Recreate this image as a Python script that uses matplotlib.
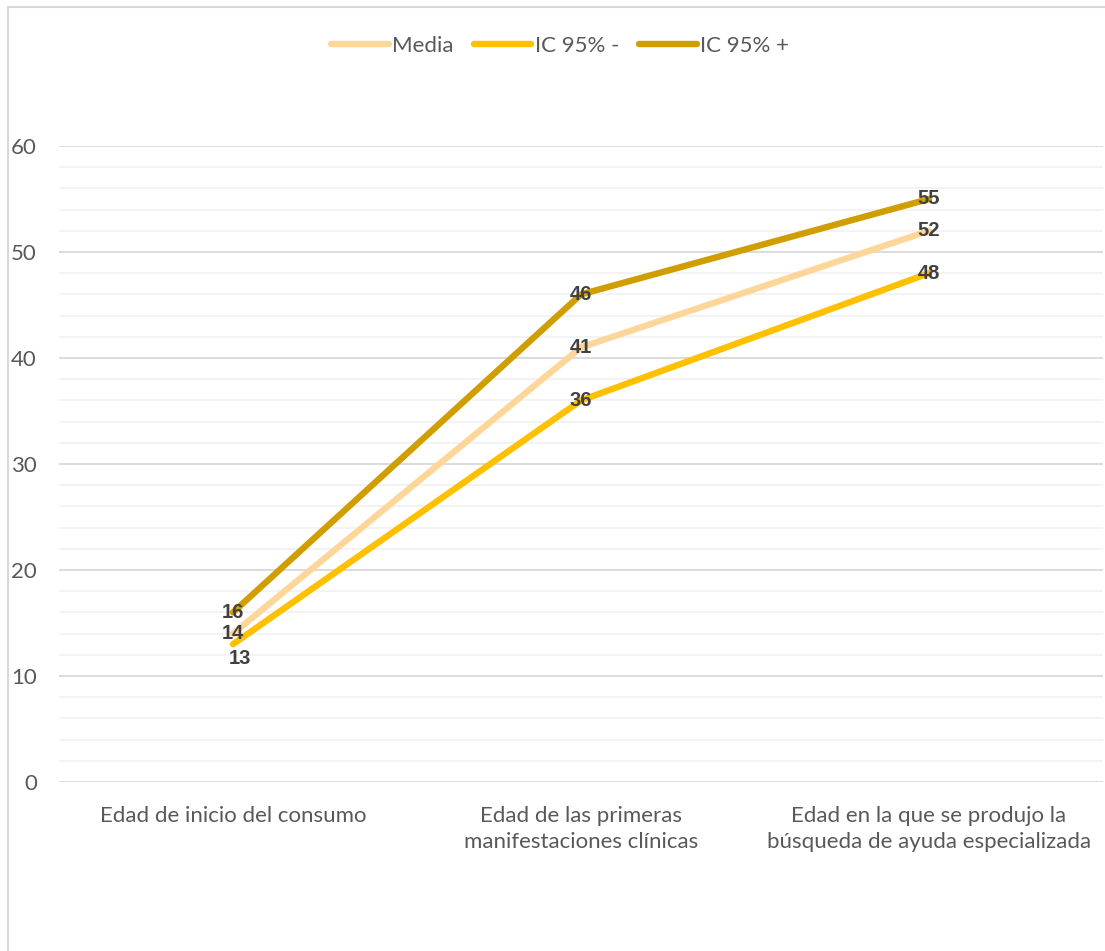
import matplotlib.pyplot as plt
from matplotlib.patches import Rectangle

categorias = ["Edad de inicio del consumo",
              "Edad de las primeras\nmanifestaciones clínicas",
              "Edad en la que se produjo la\nbúsqueda de ayuda especializada"]
media = [14, 41, 52]
ic_inf = [13, 36, 48]
ic_sup = [16, 46, 55]
series = ["Media", "IC 95% -", "IC 95% +"]
colores = ["#FFD699", "#FFC000", "#D09E00"]

plt.rcParams['font.family'] = ['Lato', 'DejaVu Sans']
fs = 16
lab_font = dict(family=['Liberation Sans', 'DejaVu Sans'], fontsize=14.5,
                fontweight='bold', color='#404040')

fig = plt.figure(figsize=(11.05, 9.51), dpi=100)
ax = fig.add_axes([59/1105, 1 - 782/951, 1044/1105, (782 - 146)/951])

x = list(range(len(categorias)))
for nombre, vals, col in zip(series, [media, ic_inf, ic_sup], colores):
    ax.plot(x, vals, color=col, lw=4.6, label=nombre, solid_capstyle='round', zorder=3)

# etiquetas de datos
for vals in [media, ic_sup]:
    for xi, v in zip(x, vals):
        ax.text(xi, v, str(v), ha='center', va='center', zorder=5, **lab_font)
for xi, v in zip(x, ic_inf):
    dy = -1.35 if xi == 0 else 0
    ax.text(xi + (0.02 if xi == 0 else 0), v + dy, str(v), ha='center', va='center',
            zorder=5, **lab_font)

ax.set_xlim(-0.5, 2.5)
ax.set_ylim(0, 60)
ax.set_yticks(range(0, 61, 10))
ax.set_yticks(range(0, 61, 2), minor=True)
ax.grid(axis='y', which='major', color='#D9D9D9', lw=1.3, zorder=1)
ax.grid(axis='y', which='minor', color='#F2F2F2', lw=1.3, zorder=0)
ax.set_xticks(x)
ax.set_xticklabels(categorias, fontsize=fs, color='#595959', linespacing=1.4)
ax.tick_params(axis='both', which='both', length=0, labelsize=fs, labelcolor='#595959')
ax.tick_params(axis='x', pad=17)
ax.tick_params(axis='y', pad=16)
for s in ax.spines.values():
    s.set_visible(False)

leg = fig.legend(loc='center', bbox_to_anchor=(560/1105, 1 - 46/951), ncol=3,
                 frameon=False, fontsize=fs, handlelength=2.6, columnspacing=0.9,
                 handletextpad=0.15)
for t in leg.get_texts():
    t.set_color('#595959')

fig.patches.append(Rectangle((8/1105, -0.01), 1.1, 1 - 7/951 + 0.01, transform=fig.transFigure,
                             fill=False, edgecolor='#D9D9D9', lw=1.5))

fig.savefig("out.png", dpi=100)
